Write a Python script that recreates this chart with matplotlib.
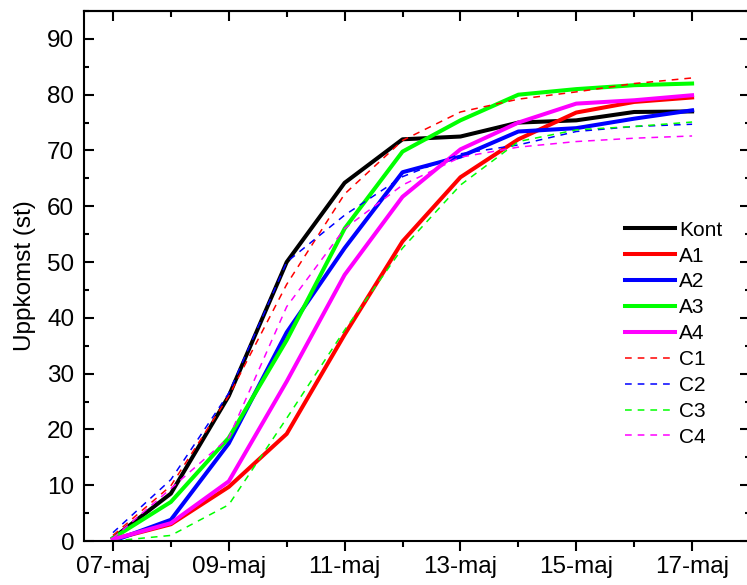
import matplotlib
matplotlib.use('Agg')
import matplotlib.pyplot as plt
from matplotlib.ticker import MultipleLocator

plt.rcParams['font.family'] = ['Liberation Sans', 'DejaVu Sans']

# dagar i maj
days = [7, 8, 9, 10, 11, 12, 13, 14, 15, 16, 17]
tick_days = [7, 9, 11, 13, 15, 17]
tick_labels = ['07-maj', '09-maj', '11-maj', '13-maj', '15-maj', '17-maj']

kont = [0.5, 8.5, 26.0, 50.0, 64.2, 72.0, 72.5, 75.0, 75.4, 76.9, 77.0]
a1 = [0.3, 3.0, 9.7, 19.2, 37.0, 53.7, 65.2, 72.0, 76.8, 78.7, 79.5]
a2 = [0.0, 3.8, 17.5, 37.4, 52.5, 66.1, 68.9, 73.4, 74.0, 75.7, 77.2]
a3 = [0.5, 7.0, 18.5, 36.0, 56.0, 69.8, 75.4, 80.0, 81.0, 81.7, 82.0]
a4 = [0.3, 3.2, 10.7, 28.6, 47.7, 61.7, 70.2, 75.0, 78.4, 79.0, 79.9]
c1 = [1.0, 9.9, 26.0, 46.0, 62.2, 71.8, 76.9, 79.2, 80.5, 82.0, 83.0]
c2 = [1.5, 11.0, 26.5, 50.0, 58.4, 65.3, 69.4, 71.0, 73.4, 74.3, 74.7]
c3 = [0.0, 1.0, 6.5, 22.0, 37.8, 52.5, 63.8, 71.6, 73.7, 74.3, 75.1]
c4 = [0.5, 9.4, 18.5, 42.0, 56.0, 63.8, 68.8, 70.6, 71.6, 72.2, 72.6]

fig = plt.figure(figsize=(7.47, 5.85), dpi=100)
ax = fig.add_axes([84/747, 44/585, 666/747, 530/585])

solid_lw = 2.9
dash_lw = 1.1
dash = (4.4, 3.9)

ax.plot(days, kont, color='black', lw=solid_lw, label='Kont')
ax.plot(days, a1, color='#ff0000', lw=solid_lw, label='A1')
ax.plot(days, a2, color='#0000ff', lw=solid_lw, label='A2')
ax.plot(days, a3, color='#00ff00', lw=solid_lw, label='A3')
ax.plot(days, a4, color='#ff00ff', lw=solid_lw, label='A4')
ax.plot(days, c1, color='#ff0000', lw=dash_lw, dashes=dash, label='C1')
ax.plot(days, c2, color='#0000ff', lw=dash_lw, dashes=dash, label='C2')
ax.plot(days, c3, color='#00ff00', lw=dash_lw, dashes=dash, label='C3')
ax.plot(days, c4, color='#ff00ff', lw=dash_lw, dashes=dash, label='C4')

ax.set_xlim(6.5, 18.0)
ax.set_ylim(0, 95)
ax.set_xticks(tick_days)
ax.set_xticklabels(tick_labels)
ax.xaxis.set_minor_locator(MultipleLocator(1))
ax.yaxis.set_major_locator(MultipleLocator(10))
ax.yaxis.set_minor_locator(MultipleLocator(5))
ax.set_yticks([0, 10, 20, 30, 40, 50, 60, 70, 80, 90])

for s in ax.spines.values():
    s.set_linewidth(1.5)

ax.tick_params(axis='x', which='both', direction='out', bottom=True, top=False,
               width=1.5, labelsize=17.5, pad=3)
ax.tick_params(axis='x', which='major', length=7.5)
ax.tick_params(axis='x', which='minor', length=4.5)
ax.tick_params(axis='y', which='both', direction='in', left=True, right=True,
               width=1.5, labelsize=17.5, pad=7)
ax.tick_params(axis='y', which='major', length=7.5)
ax.tick_params(axis='y', which='minor', length=3.8)

# ticks inåt på övre kanten
top = ax.secondary_xaxis('top')
top.set_xticks(tick_days)
top.xaxis.set_minor_locator(MultipleLocator(1))
top.tick_params(which='both', direction='in', width=1.5, labeltop=False)
top.tick_params(which='major', length=7.5)
top.tick_params(which='minor', length=4.5)
top.spines['top'].set_linewidth(1.5)

ax.set_ylabel('Uppkomst (st)', fontsize=17.5, labelpad=8)

ax.legend(loc='upper left', bbox_to_anchor=(0.80, 0.62), frameon=False,
          fontsize=15, handlelength=2.4, handletextpad=0.2, labelspacing=0.33,
          borderaxespad=0)

fig.savefig('out.png', dpi=100)
